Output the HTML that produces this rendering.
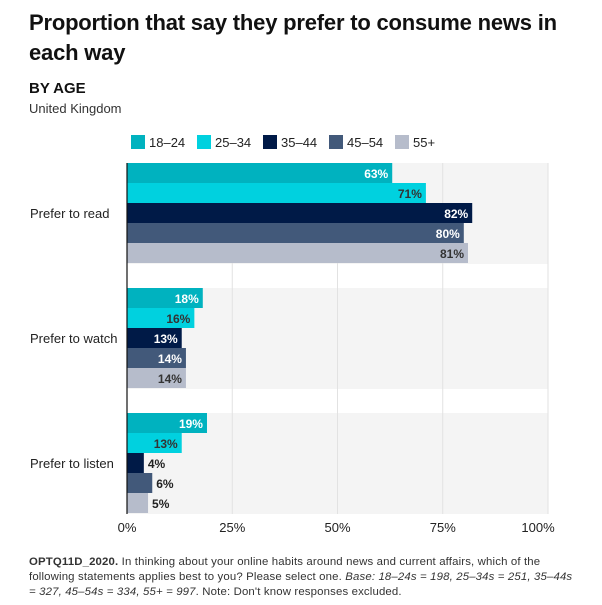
<!DOCTYPE html>
<html><head><meta charset="utf-8">
<style>
body{margin:0;background:#fff;font-family:"Liberation Sans",sans-serif;color:#111;}
#wrap{position:relative;width:602px;height:605px;overflow:hidden;}
h1{position:absolute;left:29px;top:8px;margin:0;font-size:22px;line-height:30px;font-weight:bold;width:560px;letter-spacing:-0.2px}
.sub{position:absolute;left:29px;top:80px;font-size:15px;font-weight:bold}
.geo{position:absolute;left:29px;top:101px;font-size:13px;color:#333}
.foot{position:absolute;left:29px;top:555px;font-size:11.4px;line-height:15px;color:#333;width:556px;letter-spacing:0.15px}
</style></head><body>
<div id="wrap">
<h1>Proportion that say they prefer to consume news in each way</h1>
<div class="sub">BY AGE</div>
<div class="geo">United Kingdom</div>
<svg id="svg" width="602" height="545" style="position:absolute;left:0;top:0"></svg>
<div class="foot"><b>OPTQ11D_2020.</b> In thinking about your online habits around news and current affairs, which of the<br>following statements applies best to you? Please select one. <i>Base: 18–24s = 198, 25–34s = 251, 35–44s<br>= 327, 45–54s = 334, 55+ = 997</i>. Note: Don't know responses excluded.</div>
</div>
<script>
const categories=["Prefer to read","Prefer to watch","Prefer to listen"];
const seriesNames=["18–24","25–34","35–44","45–54","55+"];
const s1824=[63,18,19];
const s2534=[71,16,13];
const s3544=[82,13,4];
const s4554=[80,14,6];
const s55=[81,14,5];
const ticks=[0,25,50,75,100];
const series=[s1824,s2534,s3544,s4554,s55];
const colors=["#00b2bf","#00d1df","#001a47","#42597a","#b6bccb"];
const labelInside=["#fff","#333","#fff","#fff","#333"];
const NS="http://www.w3.org/2000/svg";
const svg=document.getElementById('svg');
const x0=127,x1=548,bandTop=163,bandStep=125,barH=20;
const xs=v=>x0+(x1-x0)*v/100;
function mk(t,a){const e=document.createElementNS(NS,t);for(const k in a)e.setAttribute(k,a[k]);svg.appendChild(e);return e;}
let lx=131;
seriesNames.forEach((n,i)=>{
 const r=mk('rect',{x:lx,y:135,width:14,height:14,fill:colors[i]});
 
 
 const t=mk('text',{x:lx+18,y:147,'font-size':13,fill:'#222'});
 t.textContent=n;
 
 
 lx+= i<4?66:0;
});
categories.forEach((c,ci)=>{
 const y=bandTop+ci*bandStep;
 const b=mk('rect',{x:x0,y:y,width:x1-x0,height:barH*5+1,fill:'#f4f4f4'});
 
 
});
ticks.forEach(t=>{
 if(t===0)return;
 const l=mk('line',{x1:xs(t),x2:xs(t),y1:bandTop,y2:bandTop+2*bandStep+barH*5+1,stroke:'#e2e2e2','stroke-width':1});
 
 
});
ticks.forEach(t=>{
 const tx=mk('text',{x:xs(t)-(t===100?10:0),y:532,'font-size':13,'text-anchor':'middle',fill:'#222'});
 tx.textContent=t+'%';
 
 
});
categories.forEach((c,ci)=>{
 const y=bandTop+ci*bandStep;
 const lab=mk('text',{x:30,y:y+55,'font-size':13,fill:'#222'});
 lab.textContent=c;
 
 
 series.forEach((s,si)=>{
  const v=s[ci];const by=y+si*barH;
  const r=mk('rect',{x:x0,y:by,width:xs(v)-x0,height:barH,fill:colors[si]});
  
  
  const w=xs(v)-x0;const inside=w>40;
  const t=mk('text',{x:inside?xs(v)-4:xs(v)+4,y:by+15,'font-size':12,'font-weight':'bold','text-anchor':inside?'end':'start',fill:inside?labelInside[si]:'#222'});
  t.textContent=v+'%';
  
  
 });
});
const ax=mk('line',{x1:x0,x2:x0,y1:bandTop,y2:bandTop+2*bandStep+barH*5+1,stroke:'#111','stroke-width':1.2});


</script>
</body></html>
